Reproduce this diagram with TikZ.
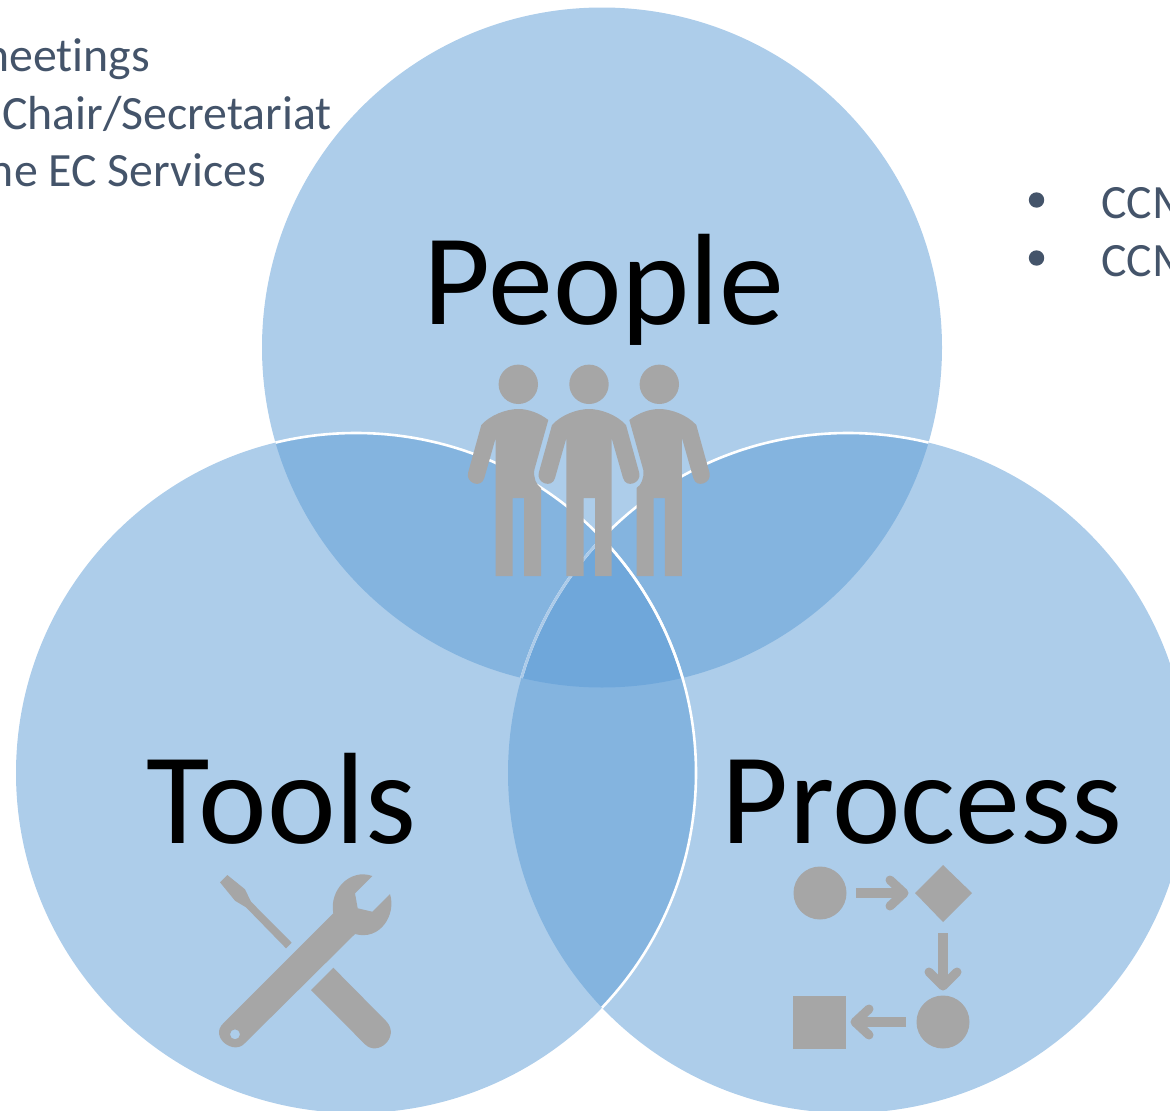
\documentclass[tikz,border=0pt]{standalone}
\usepackage{fontspec}
\setmainfont[Ligatures=CommonOff]{Carlito}

\definecolor{vennblue}{HTML}{5B9BD5}
\definecolor{vennlight}{HTML}{ACCBE9}
\definecolor{icongray}{HTML}{A6A6A6}
\definecolor{notetext}{HTML}{44546A}

\tikzset{
  venn/.style={circle,minimum size=680pt,inner sep=0pt,fill=vennblue,fill opacity=0.5},
  rim/.style={draw=white,line width=2.6pt},
  title/.style={inner sep=0pt,anchor=base,text=black,font=\fontsize{130}{130}\selectfont},
  note/.style={inner sep=0pt,text=notetext,font=\fontsize{47.8}{47.8}\selectfont},
  icon/.style={fill=icongray,draw=none},
  iconline/.style={draw=icongray,line cap=round,line join=round},
  middleman/.pic={
    \fill[icongray] (0,-81.7) circle (19.7);
    \fill[icongray] (-22.6,-28) -- (-37,-41) .. controls (-28,-51) and (-12,-57) .. (0,-57) .. controls (12,-57) and (28,-51) .. (37,-41)
      -- (50.2,6.7) .. controls (53,17) and (37,23) .. (34,12) -- (22.6,-28) -- (22.6,110) -- (6,110) -- (6,32) -- (-5.5,32) -- (-5.5,110) -- (-22.6,110) -- (-22.6,-28)
      -- (-34,12) .. controls (-37,23) and (-53,17) .. (-50.2,6.7) -- (-37,-41) -- cycle;
  },
  sideman/.pic={
    \fill[icongray] (0,-81.7) circle (19.7);
    \fill[icongray] (-22.6,-28) -- (-37,-41) .. controls (-28,-51) and (-12,-57) .. (0,-57) .. controls (10,-57) and (21,-53) .. (30,-46)
      -- (16,4) .. controls (15,12) and (18,19) .. (22.7,22) -- (22.7,110) -- (5.7,110) -- (5.7,32) -- (-5.6,32) -- (-5.6,110) -- (-22.6,110) -- (-22.6,-28)
      -- (-34,12) .. controls (-37,23) and (-53,17) .. (-50.2,6.7) -- (-37,-41) -- cycle;
  }
}

\begin{document}
\begin{tikzpicture}[x=1pt,y=-1pt]

   \useasboundingbox (0,0) rectangle (1170,1111);

   % Circles
      \node[venn]  (people)  at (602,347.5) {};
      \node[venn]  (process) at (848,773) {};
      \node[venn]  (tools)   at (356,773) {};

   % Rims
      \begin{scope}
         \clip (people.center) circle (340);
         \draw[rim] (process.center) circle (340);
         \clip (tools.center) circle (340);
         \draw[rim,draw=vennlight] (process.center) circle (340);
      \end{scope}
      \begin{scope}
         \clip (people.center) circle (340);
         \draw[rim] (tools.center) circle (340);
      \end{scope}
      \begin{scope}
         \clip (process.center) circle (340);
         \draw[rim] (tools.center) circle (340);
      \end{scope}

   % Titles
      \node[title] (peoplelbl)  at (604,324) {People};
      \node[title] (toolslbl)   at (281.5,843) {Tools};
      \node[title] (processlbl) at (922,843) {Process};

   % Notes
      \node[note,anchor=base east] (notea) at (150,71)   {meetings};
      \node[note,anchor=base east] (noteb) at (332,129)  {Chair/Secretariat};
      \node[note,anchor=base east] (notec) at (266,186)  {the EC Services};
      \node[note,anchor=base west] (noted) at (1101,218) {CCM};
      \node[note,anchor=base west] (notee) at (1101,276) {CCM};
      \fill[notetext] (1036.5,200) circle (7.7);
      \fill[notetext] (1036.5,258) circle (7.7);

   % People
      \pic at (518.3,466) {sideman};
      \pic[xscale=-1] at (659.3,466) {sideman};
      \pic at (589,466) {middleman};

   % Tools
      \fill[icon] (220,882.3) -- (227.3,875) -- (245,889.3) -- (251,901.7) -- (291.7,942.7) -- (286,948.3) -- (246,907.3) -- (235,900.7) -- cycle;
      \fill[icon,even odd rule] (333.3,913.3) .. controls (329,890) and (350,868) .. (372.3,876) -- (355,893.3) -- (357.7,908.3) -- (372.3,911.7) -- (390,894)
         .. controls (396.5,915) and (380,941) .. (355,934) -- (245,1043) .. controls (234,1056) and (209,1037) .. (223.3,1023.3) -- cycle
         (235,1034.3) circle (5);
      \fill[icon] (333.3,967.7) -- (386.7,1021.7) .. controls (400,1037) and (378,1057) .. (365,1044.3) -- (311,990) -- cycle;

   % Process
      \fill[icon] (820,893) circle (26.5);
      \fill[icon] (943,865) -- (972,893) -- (943,922) -- (915,893) -- cycle;
      \fill[icon] (943,1022) circle (26.5);
      \fill[icon] (793,996) rectangle (846,1049);
      \fill[icon] (856,888) rectangle (900,898);
      \fill[icon] (938,933) rectangle (948,980);
      \fill[icon] (862,1017) rectangle (906,1027);
      \draw[iconline,line width=9pt] (890,880) -- (904,893) -- (890,906);
      \draw[iconline,line width=9pt] (929,972) -- (943,986) -- (957,972);
      \draw[iconline,line width=9pt] (869,1009) -- (855,1022) -- (869,1035);

\end{tikzpicture}
\end{document}
